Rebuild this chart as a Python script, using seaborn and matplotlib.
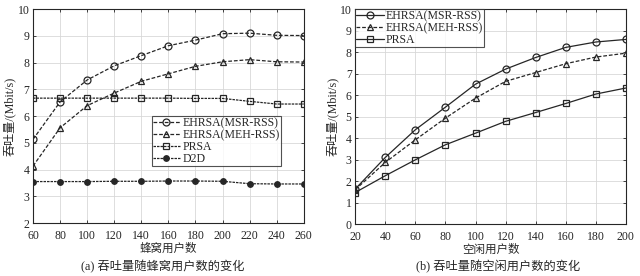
import matplotlib
matplotlib.use('Agg')
import matplotlib.pyplot as plt
import pandas as pd
import seaborn as sns

# (a) throughput vs. number of cellular users
cell_users = [60, 80, 100, 120, 140, 160, 180, 200, 220, 240, 260]
a_msr = [5.13, 6.53, 7.35, 7.88, 8.26, 8.63, 8.84, 9.08, 9.10, 9.02, 9.01]
a_meh = [4.13, 5.56, 6.39, 6.86, 7.30, 7.58, 7.86, 8.03, 8.11, 8.03, 8.02]
a_prsa = [6.67, 6.67, 6.67, 6.67, 6.67, 6.67, 6.66, 6.66, 6.55, 6.45, 6.45]
a_d2d = [3.55, 3.55, 3.55, 3.56, 3.56, 3.57, 3.57, 3.56, 3.47, 3.46, 3.46]

# (b) throughput vs. number of idle users
idle_users = [20, 40, 60, 80, 100, 120, 140, 160, 180, 200]
b_msr = [1.63, 3.10, 4.39, 5.44, 6.51, 7.21, 7.75, 8.22, 8.47, 8.59]
b_meh = [1.60, 2.87, 3.92, 4.93, 5.86, 6.64, 7.05, 7.46, 7.77, 7.95]
b_prsa = [1.47, 2.25, 2.99, 3.69, 4.23, 4.78, 5.19, 5.61, 6.05, 6.33]

names = ['EHRSA(MSR-RSS)', 'EHRSA(MEH-RSS)', 'PRSA', 'D2D']

sns.set_theme(style='ticks')
plt.rcParams['font.family'] = ['Liberation Serif', 'Noto Sans CJK SC']
plt.rcParams['font.size'] = 8

df_a = pd.DataFrame({
    'x': cell_users * 4,
    'y': a_msr + a_meh + a_prsa + a_d2d,
    'algo': sum([[n] * len(cell_users) for n in names], []),
})
df_b = pd.DataFrame({
    'x': idle_users * 3,
    'y': b_msr + b_meh + b_prsa,
    'algo': sum([[n] * len(idle_users) for n in names[:3]], []),
})

fig = plt.figure(figsize=(6.4, 2.76), dpi=100)
ax1 = fig.add_axes([0.0516, 0.192, 0.423, 0.775])
ax2 = fig.add_axes([0.555, 0.188, 0.423, 0.779])

ink = '#262626'
pal = {n: ink for n in names}
markers_a = {names[0]: 'o', names[1]: '^', names[2]: 's', names[3]: 'o'}
dashes_a = {names[0]: (3, 1.5), names[1]: (3, 1.5), names[2]: (2, 0.8), names[3]: (2, 0.8)}
sns.lineplot(data=df_a, x='x', y='y', hue='algo', style='algo', palette=pal,
             markers=markers_a, dashes=dashes_a, ax=ax1, lw=0.9,
             markersize=5, markeredgewidth=0.9, legend=False)
for line, n in zip(ax1.lines, names):
    line.set_markerfacecolor(ink if n == 'D2D' else 'none')
    line.set_markeredgecolor(ink)
    line.set_label(n)
    if n in ('D2D', 'PRSA'):
        line.set_markersize(4)

markers_b = {names[0]: 'o', names[1]: '^', names[2]: 's'}
dashes_b = {names[0]: '', names[1]: (3, 1.5), names[2]: ''}
sns.lineplot(data=df_b, x='x', y='y', hue='algo', style='algo', palette=pal,
             markers=markers_b, dashes=dashes_b, ax=ax2, lw=0.9,
             markersize=5, markeredgewidth=0.9, legend=False)
for line, n in zip(ax2.lines, names[:3]):
    line.set_markerfacecolor('none')
    line.set_markeredgecolor(ink)
    line.set_label(n)
    if n == 'PRSA':
        line.set_markersize(4)

ylab = '吞吐量/(Mbit/s)'
ax1.set_xlim(60, 260)
ax1.set_ylim(2, 10)
ax1.set_xticks(cell_users)
ax1.set_yticks(range(2, 11))
ax1.set_xlabel('蜂窝用户数', fontsize=8.3, labelpad=0.5)
ax1.set_ylabel(ylab, fontsize=8.7, labelpad=1)

ax2.set_xlim(20, 200)
ax2.set_ylim(0, 10)
ax2.set_xticks(idle_users)
ax2.set_yticks(range(0, 11))
ax2.set_xlabel('空闲用户数', fontsize=8.3, labelpad=0.5)
ax2.set_ylabel(ylab, fontsize=8.7, labelpad=1)

for ax in (ax1, ax2):
    ax.grid(True, color='#d8d8d8', lw=0.6)
    ax.tick_params(direction='in', length=2.5, width=0.6, labelsize=8.5,
                   top=True, right=True)
    ax.tick_params(axis='x', pad=5)
    ax.tick_params(axis='y', pad=2.5)
    for s in ax.spines.values():
        s.set_linewidth(0.8)
        s.set_color(ink)

leg1 = ax1.legend(loc='lower right', bbox_to_anchor=(0.915, 0.265),
                  frameon=True, fancybox=False, edgecolor=ink,
                  fontsize=8.5, handlelength=2.3, handletextpad=0.2,
                  borderpad=0.1, labelspacing=0.0, borderaxespad=0)
leg1.get_frame().set_linewidth(0.8)
leg2 = ax2.legend(loc='upper left', frameon=True, fancybox=False,
                  edgecolor=ink, fontsize=8.5, handlelength=2.3,
                  handletextpad=0.2, borderpad=0.1, labelspacing=0.0,
                  borderaxespad=0)
leg2.get_frame().set_linewidth(0.8)

fig.text(0.254, 0.022, '(a) 吞吐量随蜂窝用户数的变化', ha='center', fontsize=8.8)
fig.text(0.778, 0.022, '(b) 吞吐量随空闲用户数的变化', ha='center', fontsize=8.8)

fig.savefig('out.png', dpi=100)
